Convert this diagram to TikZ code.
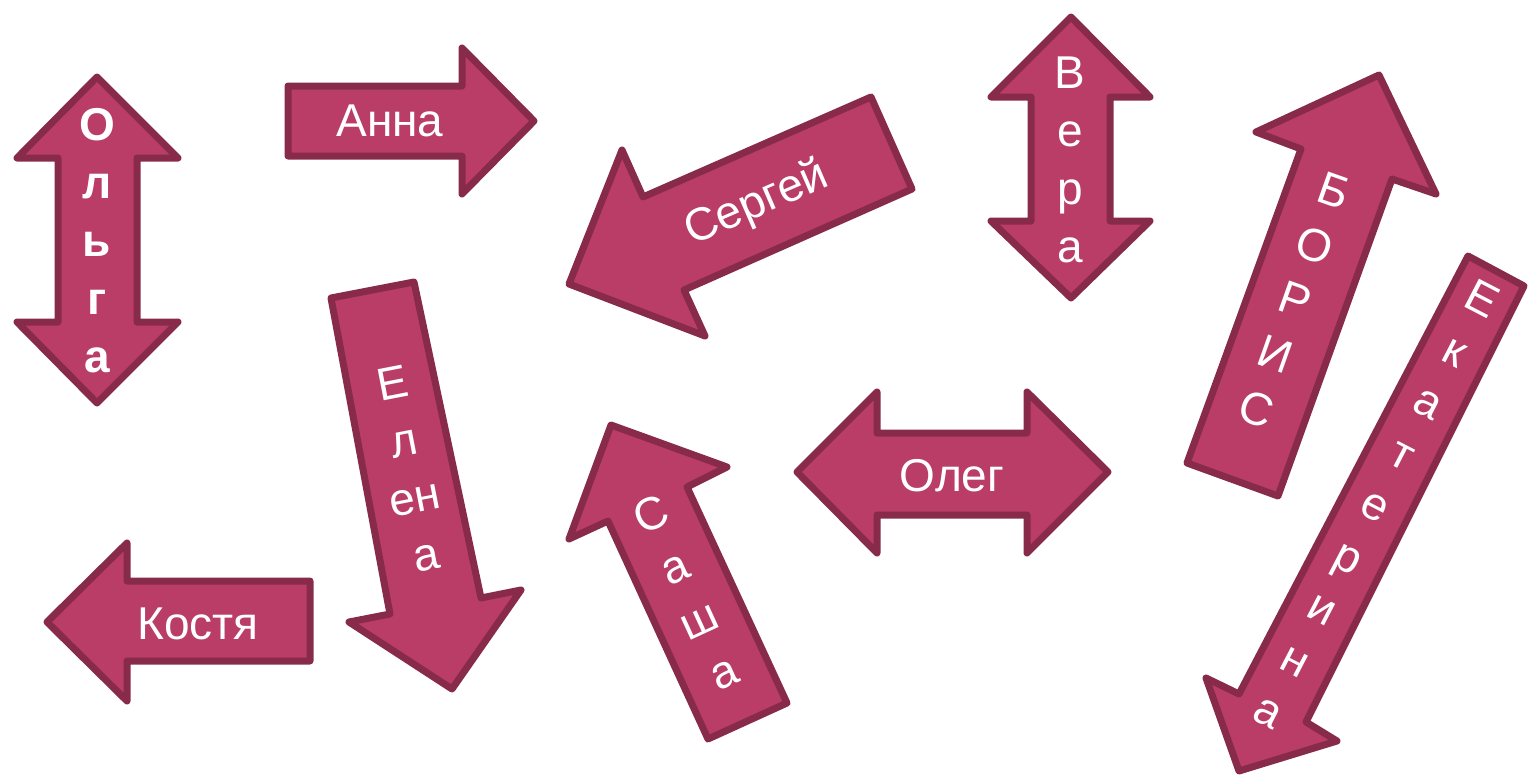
\documentclass[tikz,border=0pt]{standalone}
\usepackage{fontspec}
\setmainfont{Liberation Sans}
\definecolor{arrowfill}{HTML}{B93D67}
\definecolor{arrowline}{HTML}{882B4B}
\begin{document}
\begin{tikzpicture}[x=1pt, y=-1pt,
    arrowbody/.style={draw=arrowline, fill=arrowfill, line width=7pt, line join=round},
    nametext/.style={text=white, font=\fontsize{46}{58}\selectfont, align=center, inner sep=0pt}]
  \useasboundingbox (0,0) rectangle (1529,779);
  \draw[arrowbody] (97,77) -- (178,158) -- (137,158) -- (137,322) -- (178,322) -- (97,403)
                   -- (17,322) -- (58,322) -- (58,158) -- (17,158) -- cycle;
  \draw[arrowbody] (288,86) -- (462,86) -- (462,48) -- (534,121) -- (462,194) -- (462,156)
                   -- (288,156) -- cycle;
  \draw[arrowbody] (569,284) -- (622,150) -- (643,197) -- (871,97) -- (912,189)
                   -- (684,290) -- (705,336) -- cycle;
  \draw[arrowbody] (1071,17) -- (1150,97) -- (1110,97) -- (1110,221) -- (1150,221) -- (1071,298)
                   -- (991,221) -- (1031,221) -- (1031,97) -- (991,97) -- cycle;
  \draw[arrowbody] (1379,75) -- (1436,194) -- (1392,179) -- (1278,496) -- (1187,463)
                   -- (1301,149) -- (1256,132) -- cycle;
  \draw[arrowbody] (1468,256) -- (1524,286) -- (1306,722) -- (1337,741) -- (1239,771)
                   -- (1206,678) -- (1239,694) -- cycle;
  \draw[arrowbody] (331,298) -- (414,282) -- (481,598) -- (521,590) -- (452,689)
                   -- (349,622) -- (390,614) -- cycle;
  \draw[arrowbody] (708,739) -- (787,703) -- (687,487) -- (727,467) -- (611,425)
                   -- (569,539) -- (608,521) -- cycle;
  \draw[arrowbody] (797,472) -- (877,392) -- (877,433) -- (1027,433) -- (1027,392) -- (1108,472)
                   -- (1027,553) -- (1027,515) -- (877,515) -- (877,553) -- cycle;
  \draw[arrowbody] (47,622) -- (127,543) -- (127,581) -- (310,581) -- (310,661) -- (127,661)
                   -- (127,701) -- cycle;
  \node[nametext, font=\bfseries\fontsize{46}{58}\selectfont] (olga) at (97,241) {О\\л\\ь\\г\\а};
  \node[nametext] (anna) at (390,121) {Анна};
  \node[nametext, rotate=23.5] (sergey) at (757,204) {Сергей};
  \node[nametext] (vera) at (1070,160) {В\\е\\р\\а};
  \node[nametext, rotate=-19.5] (boris) at (1295,300) {Б\\О\\Р\\И\\С};
  \node[nametext, rotate=-27.4] (ekaterina) at (1376,505) {Е\\к\\а\\т\\е\\р\\и\\н\\а};
  \node[nametext, rotate=11] (elena) at (409,469) {Е\\л\\ен\\а};
  \node[nametext, rotate=24.7] (sasha) at (687,593) {С\\а\\ш\\а};
  \node[nametext] (oleg) at (952,476) {Олег};
  \node[nametext] (kostya) at (198,624) {Костя};
\end{tikzpicture}
\end{document}
